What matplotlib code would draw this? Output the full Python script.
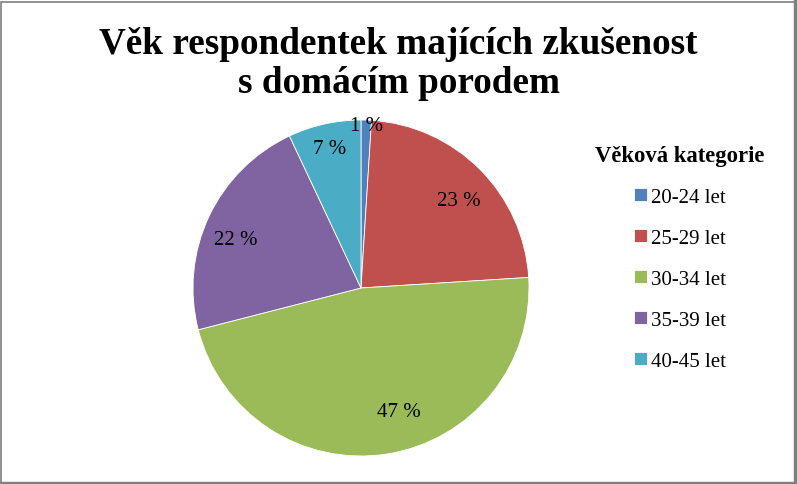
import matplotlib
matplotlib.use("Agg")
import matplotlib.pyplot as plt
from matplotlib.patches import Rectangle
import numpy as np

categories = ["20-24 let", "25-29 let", "30-34 let", "35-39 let", "40-45 let"]
values = [1, 23, 47, 22, 7]
colors = ["#4F81BD", "#C0504D", "#9BBB59", "#8064A2", "#4BACC6"]
title = "Věk respondentek majících zkušenost\ns domácím porodem"
legend_title = "Věková kategorie"

plt.rcParams['font.family'] = ['Liberation Serif', 'DejaVu Serif']

W, H = 797, 485
fig = plt.figure(figsize=(W / 100, H / 100), dpi=100)

cx, cy, r = 361, 289, 168
ax = fig.add_axes([(cx - r) / W, (H - cy - r) / H, 2 * r / W, 2 * r / H])
wedges, _ = ax.pie(values, colors=colors, startangle=90, counterclock=False,
                   radius=1, wedgeprops=dict(edgecolor='white', linewidth=0.6))
ax.set_xlim(-1, 1)
ax.set_ylim(-1, 1)
ax.set_aspect('auto')

# label placement (style): distance from centre and angular nudge in degrees
label_dist = [0.97, 0.78, 0.77, 0.80, 0.85]
label_nudge = [0, -3, 8, 4, 0]
total = sum(values)
start = 90.0
for v, d, n in zip(values, label_dist, label_nudge):
    span = 360.0 * v / total
    mid = np.deg2rad(start - span / 2 + n)
    ax.text(d * np.cos(mid), d * np.sin(mid), f"{v} %", ha='center', va='center',
            fontsize=15, color='black')
    start -= span

fig.text(0.5, 1 - 64 / H, title, ha='center', va='center',
         fontsize=26.8, fontweight='bold', linespacing=1.17)

leg = fig.legend(wedges, categories, title=legend_title, loc='center',
                 bbox_to_anchor=(680 / W, 1 - 259 / H), frameon=False,
                 fontsize=15, title_fontproperties={'weight': 'bold', 'size': 16.3},
                 handlelength=0.6, handleheight=0.6, handletextpad=0.2,
                 labelspacing=1.06)
leg._legend_box.align = "center"

# border
fig.patches.append(Rectangle((0.5 / W, 0.5 / H), (W - 3) / W, (H - 3) / H,
                             transform=fig.transFigure, fill=False,
                             edgecolor='#7f7f7f', linewidth=1.2))
fig.patches.append(Rectangle((0, 0), 1, 2.5 / H, transform=fig.transFigure,
                             color='#7f7f7f'))
fig.patches.append(Rectangle((1 - 3 / W, 0), 3 / W, 1, transform=fig.transFigure,
                             color='#7f7f7f'))

fig.savefig("out.png", dpi=100)
